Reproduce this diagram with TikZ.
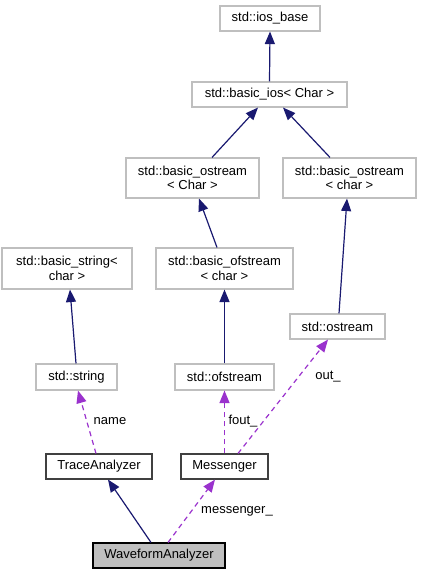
\documentclass[tikz,border=0pt]{standalone}
\usepackage{fontspec}
\setmainfont{Liberation Sans}
\usetikzlibrary{arrows.meta}
\definecolor{navy}{HTML}{191970}
\definecolor{orchid}{HTML}{9A32CD}
\definecolor{boxgrey}{HTML}{BFBFBF}
\tikzset{
  cls/.style={draw=boxgrey, line width=1.1pt, fill=white, inner sep=0pt, align=center,
    font=\fontsize{13}{14.7}\selectfont},
  clsblack/.style={cls, draw=black!75},
  clsmain/.style={cls, draw=black, fill=boxgrey},
  inherit/.style={draw=navy, line width=1.2pt, -{Triangle[length=12.5pt,width=10pt,fill=navy]}},
  usage/.style={draw=orchid, line width=1.2pt, dash pattern=on 5pt off 4pt,
    -{Triangle[length=12.5pt,width=10pt,fill=orchid]}},
  lbl/.style={inner sep=0pt, font=\fontsize{13}{14.7}\selectfont}
}
\begin{document}
\begin{tikzpicture}[x=1pt,y=-1pt]
\useasboundingbox (0,0) rectangle (422,575);
\node[cls, minimum width=100pt, minimum height=25pt] (iosbase) at (270,18.5) {std::ios\_base};
\node[cls, minimum width=155pt, minimum height=25pt] (basicios) at (269.5,94.5) {std::basic\_ios\textless{} Char \textgreater};
\node[cls, minimum width=133pt, minimum height=40pt] (bosC) at (192.5,178) {std::basic\_ostream\\\textless{} Char \textgreater};
\node[cls, minimum width=133pt, minimum height=40pt] (bosc) at (349.5,178) {std::basic\_ostream\\\textless{} char \textgreater};
\node[cls, minimum width=130pt, minimum height=41pt] (bstr) at (67,268.5) {std::basic\_string\textless\\char \textgreater};
\node[cls, minimum width=137pt, minimum height=41pt] (bofs) at (224.5,268.5) {std::basic\_ofstream\\\textless{} char \textgreater};
\node[cls, minimum width=95pt, minimum height=25pt] (ostream) at (337.5,326.5) {std::ostream};
\node[cls, minimum width=81pt, minimum height=26pt] (string) at (76.5,377) {std::string};
\node[cls, minimum width=99pt, minimum height=26pt] (ofstream) at (224.5,377) {std::ofstream};
\node[clsblack, minimum width=106pt, minimum height=25pt] (trace) at (99,466.5) {TraceAnalyzer};
\node[clsblack, minimum width=87pt, minimum height=25pt] (messenger) at (224.5,466.5) {Messenger};
\node[clsmain, minimum width=132pt, minimum height=25pt] (waveform) at (159,555.5) {WaveformAnalyzer};

\draw[inherit] (basicios.north) -- (iosbase.south);
\draw[inherit] ([xshift=19.5pt]bosC.north) -- ([xshift=-11.5pt]basicios.south);
\draw[inherit] ([xshift=-19.5pt]bosc.north) -- ([xshift=13.5pt]basicios.south);
\draw[inherit] ([xshift=-7.5pt]bofs.north) -- ([xshift=6.5pt]bosC.south);
\draw[inherit] ([xshift=1.5pt]ostream.north) -- ([xshift=-2.5pt]bosc.south);
\draw[inherit] ([xshift=-0.5pt]string.north) -- ([xshift=3pt]bstr.south);
\draw[inherit] (ofstream.north) -- (bofs.south);
\draw[usage] ([xshift=-3pt]trace.north) -- ([xshift=1.5pt]string.south);
\draw[usage] (messenger.north) -- (ofstream.south);
\draw[usage] ([xshift=13.5pt]messenger.north) -- ([xshift=-9.5pt]ostream.south);
\draw[inherit] ([xshift=-8pt]waveform.north) -- ([xshift=9pt]trace.south);
\draw[usage] ([xshift=9pt]waveform.north) -- ([xshift=-9.5pt]messenger.south);

\node[lbl] (lname) at (110,421) {name};
\node[lbl] (lfout) at (243,421) {fout\_};
\node[lbl] (lout) at (328,377) {out\_};
\node[lbl] (lmess) at (237,511) {messenger\_};
\end{tikzpicture}
\end{document}
